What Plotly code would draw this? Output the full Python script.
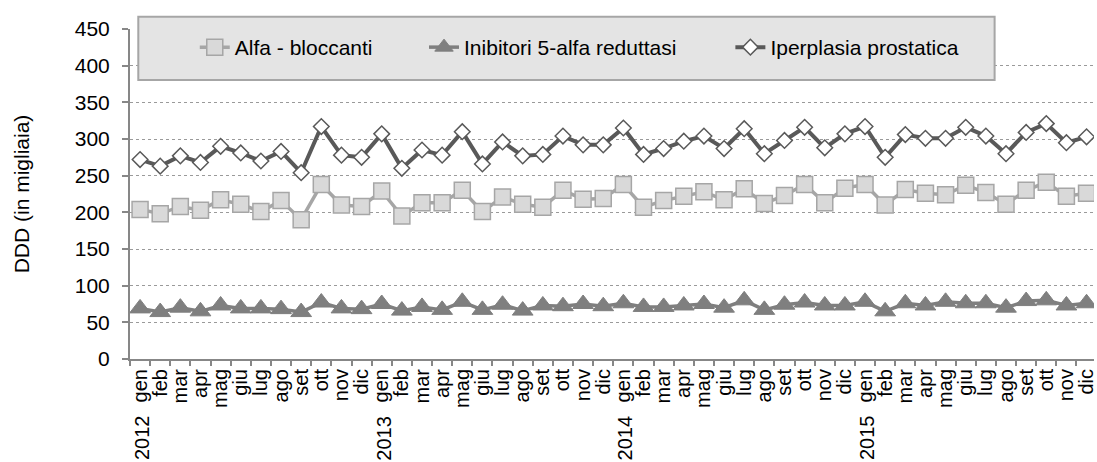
import plotly.graph_objects as go

years = ["2012", "2013", "2014", "2015"]
months = ["gen", "feb", "mar", "apr", "mag", "giu", "lug", "ago", "set", "ott", "nov", "dic"]

alfa_bloccanti = [204, 198, 208, 203, 217, 211, 201, 216, 190, 238, 210, 208,
                  229, 195, 213, 213, 230, 201, 221, 211, 207, 230, 218, 219,
                  238, 207, 216, 222, 228, 217, 232, 212, 223, 238, 213, 233,
                  238, 210, 231, 226, 224, 237, 227, 211, 230, 241, 222, 226]
inibitori = [69, 64, 70, 65, 73, 69, 69, 68, 64, 77, 69, 68,
             75, 66, 71, 67, 78, 67, 74, 66, 73, 72, 75, 72,
             76, 71, 71, 73, 75, 70, 80, 67, 74, 77, 73, 73,
             78, 65, 76, 73, 78, 76, 76, 70, 79, 80, 73, 76]
iperplasia = [272, 263, 277, 268, 290, 281, 270, 283, 254, 317, 278, 275,
              307, 260, 285, 278, 310, 266, 296, 277, 279, 304, 292, 292,
              315, 279, 287, 297, 304, 287, 314, 280, 298, 316, 288, 307,
              317, 275, 306, 301, 301, 316, 304, 280, 309, 321, 295, 303]

cats = [f"{y}-{m}" for y in years for m in months]
tick_text = [m for y in years for m in months]

FONT = "Liberation Sans, Arial, sans-serif"
FS = 21
FSX = 20

fig = go.Figure()
fig.add_trace(go.Scatter(
    x=cats, y=alfa_bloccanti, name="Alfa - bloccanti", mode="lines+markers",
    line=dict(color="#A6A6A6", width=3.5),
    marker=dict(symbol="square", size=16, color="#D9D9D9", line=dict(color="#A6A6A6", width=1.5)),
    legend="legend"))
fig.add_trace(go.Scatter(
    x=cats, y=inibitori, name="Inibitori 5-alfa reduttasi", mode="lines+markers",
    line=dict(color="#7F7F7F", width=3.5),
    marker=dict(symbol="triangle-up", size=18, color="#7F7F7F", line=dict(color="#7F7F7F", width=1)),
    legend="legend2"))
fig.add_trace(go.Scatter(
    x=cats, y=iperplasia, name="Iperplasia prostatica", mode="lines+markers",
    line=dict(color="#595959", width=4),
    marker=dict(symbol="diamond", size=12, color="#FFFFFF", line=dict(color="#595959", width=1.5)),
    legend="legend3"))

for y in years:
    fig.add_annotation(x=f"{y}-gen", xref="x", y=0, yref="paper", yanchor="middle",
                       yshift=-79, xshift=2, text=y, textangle=-90, showarrow=False,
                       borderpad=0, font=dict(family=FONT, size=FSX, color="#000000"))

# legend frame
fig.add_shape(type="rect", xref="paper", yref="paper",
              x0=0.0086, x1=0.8969, y0=0.8455, y1=1.0373,
              fillcolor="#E4E4E4", line=dict(color="#A6A6A6", width=2), layer="above")

leg_common = dict(orientation="h", yanchor="middle", y=0.944, xanchor="left",
                  bgcolor="rgba(0,0,0,0)", borderwidth=0,
                  font=dict(family=FONT, size=FS, color="#000000"))
fig.update_layout(
    width=1097, height=462,
    margin=dict(l=130, r=0, t=29, b=103),
    showlegend=True,
    paper_bgcolor="#FFFFFF", plot_bgcolor="#FFFFFF",
    font=dict(family=FONT, size=FS, color="#000000"),
    legend=dict(x=0.0672, **leg_common),
    legend2=dict(x=0.305, **leg_common),
    legend3=dict(x=0.6228, **leg_common),
    xaxis=dict(type="category", tickmode="array", tickvals=cats, ticktext=tick_text,
               tickangle=-90, tickson="boundaries", ticks="outside", ticklen=5,
               tickwidth=1.5, tickcolor="#878787", showline=True, linecolor="#878787",
               linewidth=2, showgrid=False, range=[-0.5, 47.37],
               tickfont=dict(family=FONT, size=FSX, color="#000000")),
    yaxis=dict(range=[0, 450], dtick=50, tick0=0, ticks="outside", ticklen=6,
               tickwidth=1.5, tickcolor="#878787", showline=True, linecolor="#878787",
               linewidth=2, showgrid=True, gridcolor="#9A9A9A", gridwidth=1, griddash="dot",
               zeroline=False, ticklabelstandoff=8,
               title=dict(text="DDD (in migliaia)", font=dict(family=FONT, size=FS, color="#000000"), standoff=39),
               tickfont=dict(family=FONT, size=FS, color="#000000")),
)

fig.write_html("out.html", config={"displayModeBar": False},
               post_script="document.body.style.margin='0';")
